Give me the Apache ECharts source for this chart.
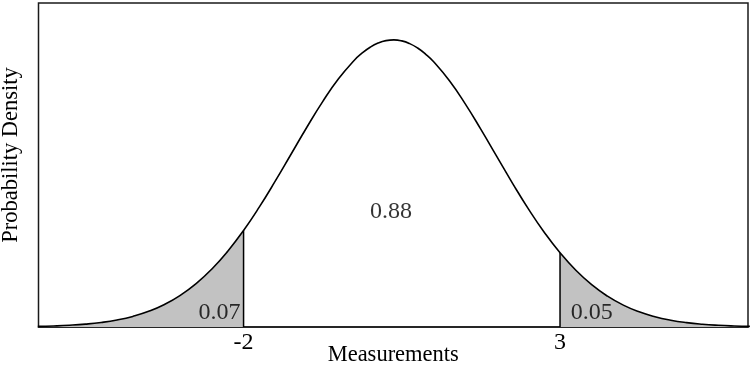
<!DOCTYPE html>
<html>
<head>
<meta charset="utf-8">
<script src="https://cdn.jsdelivr.net/npm/echarts@6/dist/echarts.min.js"></script>
<style>html,body{margin:0;padding:0;background:#fff}#c{width:751px;height:369px}</style>
</head>
<body>
<div id="c"></div>
<script>
// Curve samples (x, density)
var xs = [-5.25,-5.0,-4.75,-4.5,-4.25,-4.0,-3.75,-3.5,-3.25,-3.0,-2.75,-2.5,-2.25,-2.0,-1.75,-1.5,-1.25,-1.0,-0.75,-0.5,-0.25,-0.125,0,0.125,0.25,0.375,0.5,0.625,0.75,0.875,1.0,1.25,1.5,1.75,2.0,2.25,2.5,2.75,3.0,3.25,3.5,3.75,4.0,4.25,4.5,4.75,5.0,5.25,5.5,5.75,6.0];
var density = [0.000535,0.000913,0.001522,0.002475,0.003927,0.006084,0.009195,0.01356,0.01952,0.02743,0.03760,0.05031,0.06572,0.08375,0.10417,0.12646,0.14982,0.17322,0.19546,0.21525,0.23134,0.23765,0.24265,0.24625,0.24839,0.24903,0.24815,0.24577,0.24194,0.23672,0.23021,0.21378,0.19375,0.17138,0.14794,0.12462,0.10246,0.08222,0.06439,0.04920,0.03670,0.02672,0.01898,0.01316,0.008903,0.005880,0.003790,0.002383,0.001463,0.000875,0.000512];
var lowerCut = -2, upperCut = 3;
var tickLabels = [-2, 3];
var areaLabels = ['0.07', '0.88', '0.05'];
var areaLabelX = [-2.38, 0.33, 3.5];
var areaLabelY = [0.0122, 0.0997, 0.0122];

var curve = xs.map(function(x,i){return [x, density[i]];});
var leftTail = curve.filter(function(p){return p[0] <= lowerCut;});
var rightTail = curve.filter(function(p){return p[0] >= upperCut;});
var dLow = density[xs.indexOf(lowerCut)], dHigh = density[xs.indexOf(upperCut)];

var font = '"Liberation Serif", "Times New Roman", serif';
var chart = echarts.init(document.getElementById('c'));
chart.setOption({
  animation: false,
  grid: {left: 38.5, right: 3, top: 3, bottom: 42, outerBoundsMode: 'none', containLabel: false,
         show: true, borderColor: '#1a1a1a', borderWidth: 1.5, backgroundColor: 'transparent'},
  xAxis: {
    type: 'value', min: -5.24, max: 5.97,
    name: 'Measurements', nameLocation: 'middle', nameGap: 17, nameMoveOverlap: false,
    nameTextStyle: {fontFamily: font, fontSize: 22.5, color: '#000'},
    axisLine: {show: true, lineStyle: {color: '#1a1a1a', width: 1.5}},
    axisTick: {show: false},
    splitLine: {show: false},
    axisLabel: {customValues: tickLabels, fontFamily: font, fontSize: 24, color: '#000', margin: 4}
  },
  yAxis: {
    type: 'value', min: 0, max: 0.281,
    name: 'Probability Density', nameLocation: 'middle', nameGap: 16, nameMoveOverlap: false,
    nameTextStyle: {fontFamily: font, fontSize: 22.5, color: '#000', padding: [0, 0, 0, 20]},
    axisLine: {show: false}, axisTick: {show: false}, axisLabel: {show: false}, splitLine: {show: false}
  },
  series: [
    {type: 'line', data: leftTail, smooth: true, symbol: 'none', lineStyle: {width: 0}, areaStyle: {color: '#c2c2c2', opacity: 1}, z: 1},
    {type: 'line', data: rightTail, smooth: true, symbol: 'none', lineStyle: {width: 0}, areaStyle: {color: '#c2c2c2', opacity: 1}, z: 1},
    {type: 'line', data: curve, smooth: true, symbol: 'none', lineStyle: {color: '#000', width: 1.6}, z: 3},
    {type: 'line', data: [[lowerCut, 0], [lowerCut, dLow]], symbol: 'none', lineStyle: {color: '#000', width: 1.5}, z: 3},
    {type: 'line', data: [[upperCut, 0], [upperCut, dHigh]], symbol: 'none', lineStyle: {color: '#000', width: 1.5}, z: 3},
    {type: 'scatter', symbolSize: 0, z: 4,
      data: areaLabels.map(function(t,i){return {value: [areaLabelX[i], areaLabelY[i]], name: t};}),
      label: {show: true, position: 'inside', formatter: function(p){return p.name;}, fontFamily: font, fontSize: 24, color: '#000'}}
  ]
});
</script>
</body>
</html>
